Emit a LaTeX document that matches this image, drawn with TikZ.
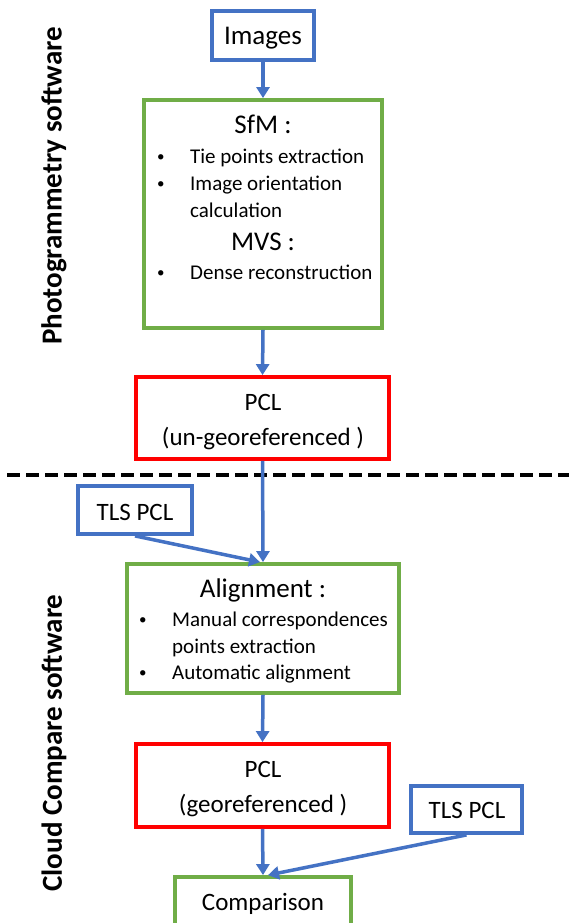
\documentclass[tikz,border=0pt]{standalone}
\usepackage{fontspec}
\setmainfont{Carlito}
\usetikzlibrary{arrows.meta}
\definecolor{oblue}{HTML}{4472C4}
\definecolor{ogreen}{HTML}{70AD47}
\definecolor{ored}{HTML}{FF0000}
\tikzset{
  bluebox/.style={draw=oblue, line width=3.8pt, inner sep=0pt},
  greenbox/.style={draw=ogreen, line width=3.8pt, inner sep=0pt},
  redbox/.style={draw=ored, line width=3.8pt, inner sep=0pt},
  big/.style={font=\fontsize{27}{30}\selectfont, inner sep=0pt, anchor=base},
  small/.style={font=\fontsize{21}{24}\selectfont, inner sep=0pt, anchor=base west},
  dot/.style={font=\fontsize{15}{18}\selectfont, inner sep=0pt, anchor=base west},
  smallc/.style={font=\fontsize{21}{24}\selectfont, inner sep=0pt, anchor=base},
  side/.style={font=\fontsize{29}{32}\selectfont\bfseries, inner sep=0pt, rotate=90},
  flow/.style={draw=oblue, line width=3.5pt, -{Triangle[length=11pt,width=13pt]}},
}
\begin{document}
\begin{tikzpicture}[x=1pt,y=-1pt]
\useasboundingbox (0,0) rectangle (569,923);
\clip (0,0) rectangle (569,923);
% boxes
\node[bluebox, minimum width=102pt, minimum height=49pt] (img) at (263,35.5) {};
\node[greenbox, minimum width=238pt, minimum height=228pt] (sfm) at (263,214) {};
\node[redbox, minimum width=253pt, minimum height=82pt] (pcl1) at (262.5,418) {};
\node[bluebox, minimum width=114pt, minimum height=48pt] (tls1) at (135,510) {};
\node[greenbox, minimum width=272pt, minimum height=129pt] (align) at (263,628.5) {};
\node[redbox, minimum width=253pt, minimum height=83pt] (pcl2) at (262.5,785.5) {};
\node[bluebox, minimum width=111pt, minimum height=47pt] (tls2) at (466.5,809.5) {};
\node[greenbox, minimum width=176pt, minimum height=70pt] (comp) at (263,912) {};
% texts
\node[big] (timg) at (263,45) {Images};
\node[big] (tsfm) at (263,133) {SfM :};
\node[dot] (b1) at (157,161) {•};
\node[small] (l1) at (190,163) {Tie points extraction};
\node[dot] (b2) at (157,188) {•};
\node[small] (l2) at (190,190) {Image orientation};
\node[small] (l3) at (190,217) {calculation};
\node[big] (tmvs) at (263,250) {MVS :};
\node[dot] (b3) at (157,277) {•};
\node[small] (l4) at (190,279) {Dense reconstruction};
\node[smallc, font=\fontsize{25}{30}\selectfont] (tp1a) at (263,410) {PCL};
\node[smallc, font=\fontsize{25}{30}\selectfont] (tp1b) at (263,445) {(un-georeferenced )};
\node[smallc, font=\fontsize{25}{30}\selectfont] (ttls1) at (135,520) {TLS PCL};
\node[big] (talign) at (263,597) {Alignment :};
\node[dot] (b4) at (139,624) {•};
\node[small] (l5) at (172,626) {Manual correspondences};
\node[small] (l6) at (172,653) {points extraction};
\node[dot] (b5) at (139,677) {•};
\node[small] (l7) at (172,679) {Automatic alignment};
\node[smallc, font=\fontsize{25}{30}\selectfont] (tp2a) at (263,777) {PCL};
\node[smallc, font=\fontsize{25}{30}\selectfont] (tp2b) at (263,812) {(georeferenced )};
\node[smallc, font=\fontsize{25}{30}\selectfont] (ttls2) at (467,818) {TLS PCL};
\node[smallc, font=\fontsize{25}{30}\selectfont] (tcomp) at (263,910) {Comparison};
% side labels
\node[side] (s1) at (54,186) {Photogrammetry software};
\node[side] (s2) at (54,743) {Cloud Compare software};
% dashed separator
\coordinate (d1) at (7,475);
\coordinate (d2) at (569,475);
\draw[line width=3.5pt, dash pattern=on 13pt off 6pt] (d1) -- (d2);
% connectors
\draw[flow] (img.south) -- (sfm.north);
\draw[flow] (sfm.south) -- (pcl1.north);
\draw[flow] (pcl1.south) -- (align.north);
\draw[flow] (tls1.south) -- ([xshift=-3pt]align.north);
\draw[flow] (align.south) -- (pcl2.north);
\draw[flow] (pcl2.south) -- (comp.north);
\draw[flow] (tls2.south) -- ([xshift=5pt]comp.north);
\end{tikzpicture}
\end{document}
